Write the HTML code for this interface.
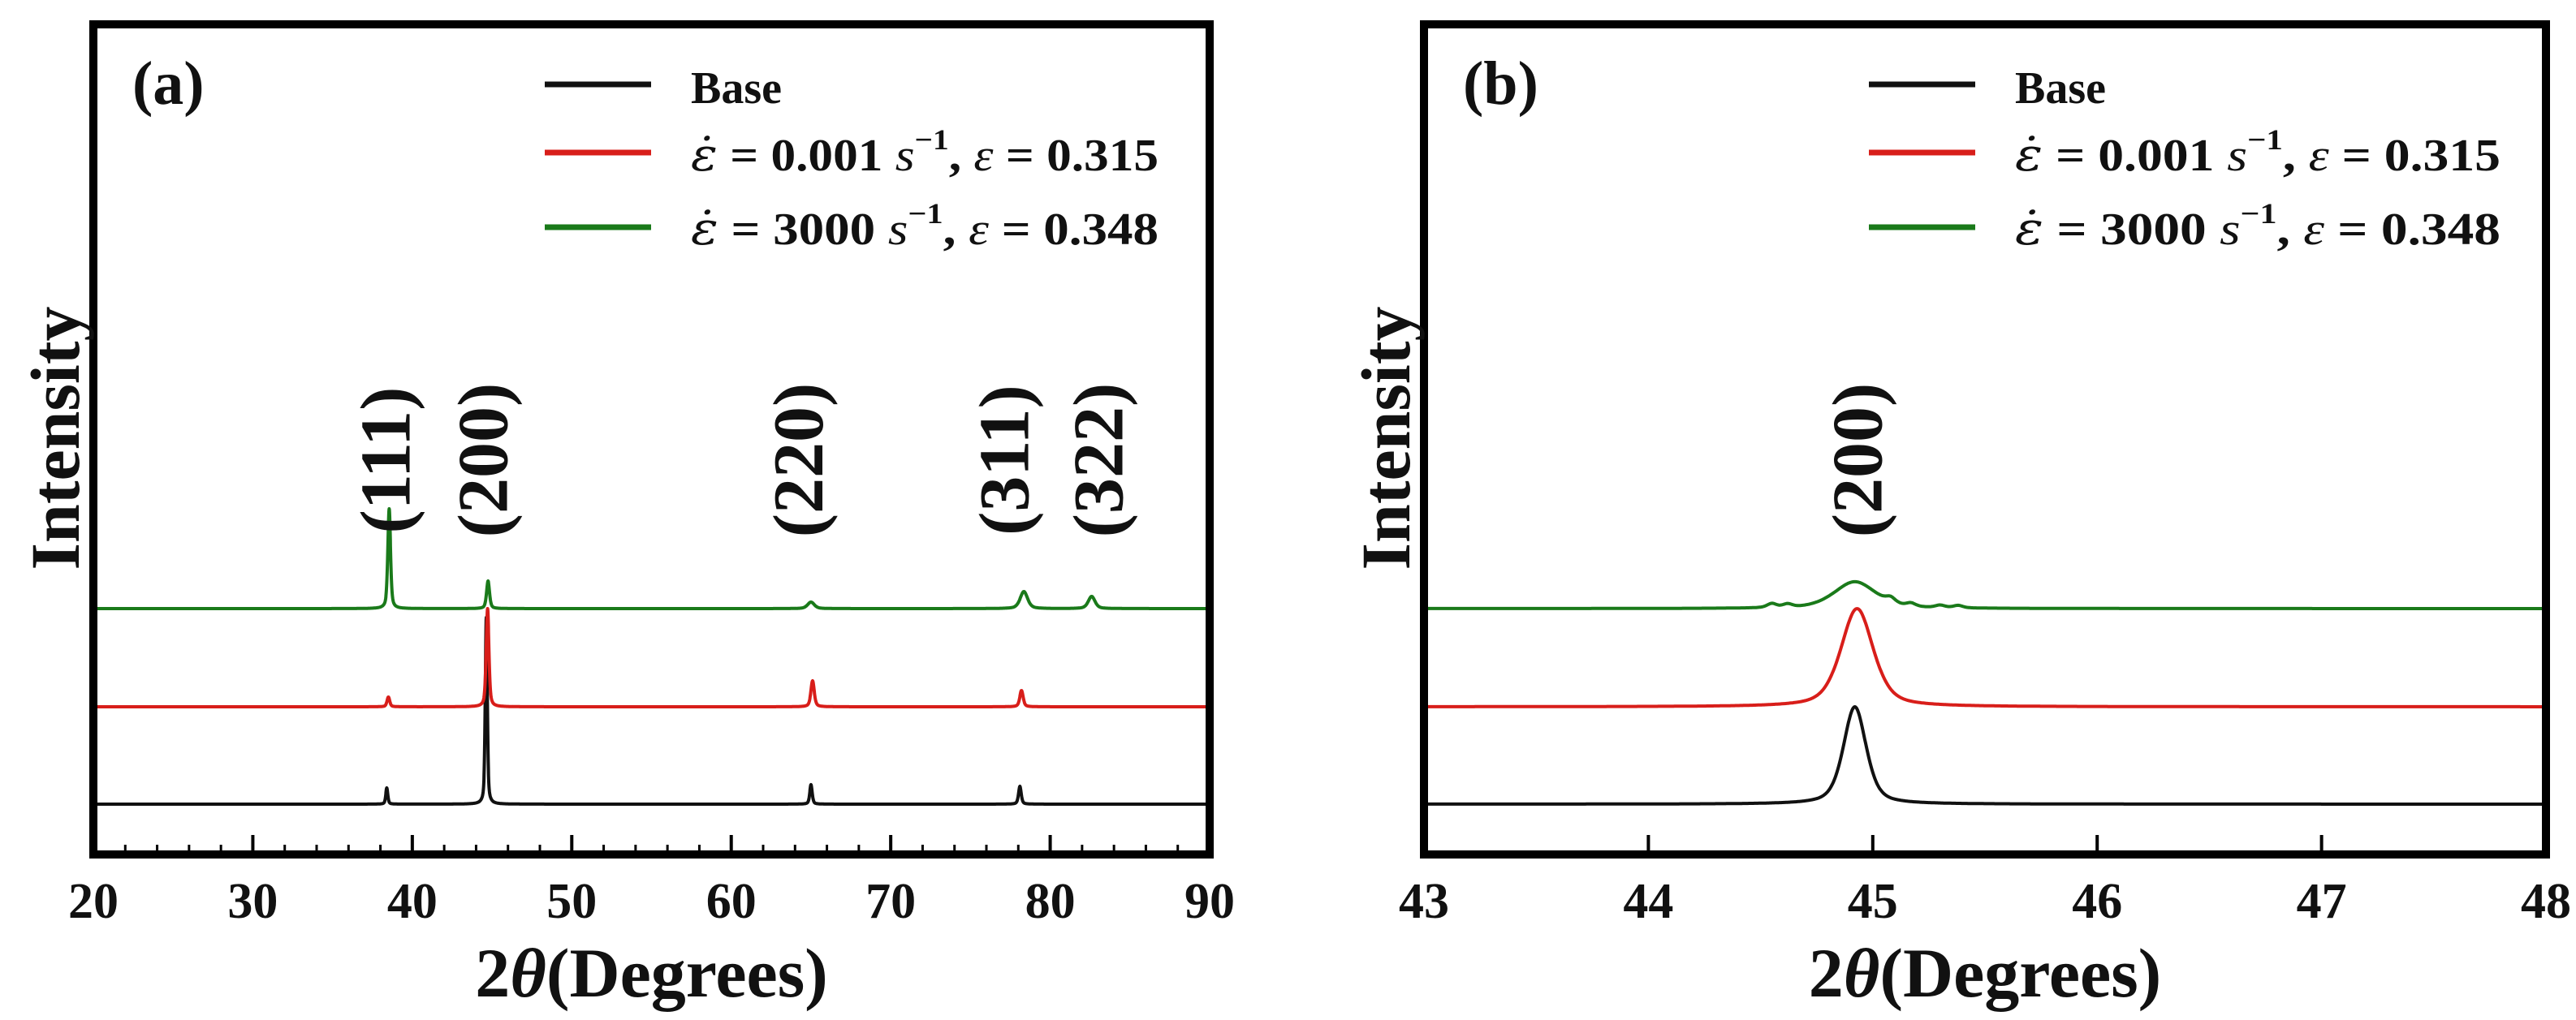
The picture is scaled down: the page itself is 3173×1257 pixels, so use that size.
<!DOCTYPE html>
<html><head><meta charset="utf-8">
<style>
html,body{margin:0;padding:0;background:#fff;}
svg{display:block;}
text{font-family:"Liberation Serif","DejaVu Serif",serif;font-weight:bold;fill:#111;}
</style></head>
<body>
<svg id="fig" width="3173" height="1257" viewBox="0 0 3173 1257" xmlns="http://www.w3.org/2000/svg">
  <g id="panelA"></g>
  <g id="panelB"></g>
</svg>
<script>
// ---- data (2θ in degrees, intensity in arbitrary units) ----
const seriesNames = ["Base", "0.001 s-1, 0.315", "3000 s-1, 0.348"];
const seriesColors = ["#111111", "#d81e1a", "#1a7a1a"];
const seriesOffsets = [0.62, 1.82, 3.03];
// Panel (a) peaks
const aBasePos = [38.4, 44.64, 65.0, 78.1];
const aBaseH = [0.20, 2.30, 0.24, 0.22];
const aBaseW = [0.15, 0.15, 0.18, 0.2];
const aRatePos = [38.5, 44.72, 65.1, 78.2];
const aRateH = [0.12, 1.21, 0.32, 0.20];
const aRateW = [0.2, 0.2, 0.25, 0.25];
const aDynPos = [38.55, 44.75, 65.0, 78.35, 82.6];
const aDynH = [1.23, 0.34, 0.08, 0.21, 0.15];
const aDynW = [0.2, 0.22, 0.5, 0.55, 0.5];
// Panel (b) peaks
const bBasePos = [44.92];
const bBaseH = [1.20];
const bBaseW = [0.12];
const bRatePos = [44.93];
const bRateH = [1.21];
const bRateW = [0.17];
const bDynPos = [44.92, 44.55, 44.62, 45.08, 45.17, 45.3, 45.38];
const bDynH = [0.33, 0.05, 0.04, 0.06, 0.04, 0.03, 0.03];
const bDynW = [0.22, 0.05, 0.05, 0.05, 0.05, 0.05, 0.05];
const aTicks = [20, 30, 40, 50, 60, 70, 80, 90];
const bTicks = [43, 44, 45, 46, 47, 48];
const aPeakLabels = ["(111)", "(200)", "(220)", "(311)", "(322)"];
const aPeakLabelPos = [38.3, 44.4, 64.2, 77.1, 83.0];
const bPeakLabels = ["(200)"];
const bPeakLabelPos = [44.93];

const NS = "http://www.w3.org/2000/svg";
function el(parent, tag, attrs, txt) {
  const e = document.createElementNS(NS, tag);
  for (const k in attrs) e.setAttribute(k, attrs[k]);
  if (txt !== undefined) e.textContent = txt;
  parent.appendChild(e);
  return e;
}
const TOP = 30, BOT = 1053;
function yS(v) { return BOT - v * 100; }
function profile(x, pos, h, w) {
  let s = 0;
  for (let i = 0; i < pos.length; i++) {
    const d = (x - pos[i]) / (w[i] / 2);
    s += h[i] * (0.5 * Math.exp(-Math.LN2 * d * d) + 0.5 / (1 + d * d));
  }
  return s;
}

function panel(g, x0, x1, dmin, dmax, step, ticks, minorStep, peaks, labels, labelPos, tag, legX, legLen) {
  const xs = v => x0 + (v - dmin) * (x1 - x0) / (dmax - dmin);
  for (let s = 0; s < 3; s++) {
    let d = "";
    for (let v = dmin; v <= dmax + 1e-9; v += step) {
      const yy = yS(seriesOffsets[s] + profile(v, peaks[s][0], peaks[s][1], peaks[s][2]));
      d += (d ? "L" : "M") + xs(v).toFixed(1) + "," + yy.toFixed(1);
    }
    const p = el(g, "path", {d: d, fill: "none", stroke: seriesColors[s], "stroke-width": 4, "stroke-linejoin": "round"});
    
    
  }
  const fr = el(g, "rect", {x: x0, y: TOP, width: x1 - x0, height: BOT - TOP, fill: "none", stroke: "#000", "stroke-width": 10});
  
  
  if (minorStep) {
    for (let v = dmin; v <= dmax + 1e-9; v += minorStep) {
      const t = el(g, "line", {x1: xs(v), x2: xs(v), y1: BOT, y2: BOT - 12, stroke: "#000", "stroke-width": 3});
      
      
    }
  }
  ticks.forEach(v => {
    const t = el(g, "line", {x1: xs(v), x2: xs(v), y1: BOT, y2: BOT - 24, stroke: "#000", "stroke-width": 4});
    
    
    const l = el(g, "text", {x: xs(v), y: 1131, "font-size": 62, "text-anchor": "middle"}, String(v));
    
    
  });
  const xt = el(g, "text", {x: (x0 + x1) / 2, y: 1228, "font-size": 86, "text-anchor": "middle"});
  
  
  el(xt, "tspan", {}, "2");
  el(xt, "tspan", {"font-style": "italic"}, "θ");
  el(xt, "tspan", {}, "(Degrees)");
  const yx = x0 - 18, yy = 540;
  const yt = el(g, "text", {x: yx, y: yy, "font-size": 86, "text-anchor": "middle", transform: `rotate(-90 ${yx} ${yy})`}, "Intensity");
  
  
  const pt = el(g, "text", {x: x0 + 48, y: 128, "font-size": 76}, tag);
  
  
  labels.forEach((lab, i) => {
    const lx = xs(labelPos[i]) + 30, ly = 567;
    const t = el(g, "text", {x: lx, y: ly, "font-size": 88, "text-anchor": "middle", fill: "#333", transform: `rotate(-90 ${lx} ${ly})`}, lab);
    
    
  });
  const rowsY = [104, 188, 280];
  const textY = [127, 210, 301];
  for (let s = 0; s < 3; s++) {
    const ll = el(g, "line", {x1: legX, x2: legX + 131, y1: rowsY[s], y2: rowsY[s], stroke: seriesColors[s], "stroke-width": 7});
    
    
    const tx = el(g, "text", {x: legX + 180, y: textY[s], "font-size": 56});
    
    
    if (s === 0) { tx.textContent = "Base"; }
    else {
      tx.setAttribute("textLength", legLen);
      tx.setAttribute("lengthAdjust", "spacingAndGlyphs");
      const rate = s === 1 ? "0.001" : "  3000";
      const strain = s === 1 ? "0.315" : "0.348";
      el(tx, "tspan", {"font-style": "italic", "font-weight": "normal", "font-family": "DejaVu Serif, serif"}, "ε\u0307");
      el(tx, "tspan", {}, " = " + rate + " ");
      el(tx, "tspan", {"font-style": "italic", "font-weight": "normal"}, "s");
      el(tx, "tspan", {dy: -26, "font-size": 36}, "−1");
      el(tx, "tspan", {dy: 26}, ", ");
      el(tx, "tspan", {"font-style": "italic", "font-weight": "normal"}, "ε");
      el(tx, "tspan", {}, " = " + strain);
    }
  }
}

const A = document.getElementById("panelA");
const B = document.getElementById("panelB");
panel(A, 115, 1490, 20, 90, 0.01, aTicks, 2,
  [[aBasePos, aBaseH, aBaseW], [aRatePos, aRateH, aRateW], [aDynPos, aDynH, aDynW]],
  aPeakLabels, aPeakLabelPos, "(a)", 671, 576);
panel(B, 1754, 3136, 43, 48, 0.004, bTicks, 0,
  [[bBasePos, bBaseH, bBaseW], [bRatePos, bRateH, bRateW], [bDynPos, bDynH, bDynW]],
  bPeakLabels, bPeakLabelPos, "(b)", 2302, 598);
</script>
</body></html>
